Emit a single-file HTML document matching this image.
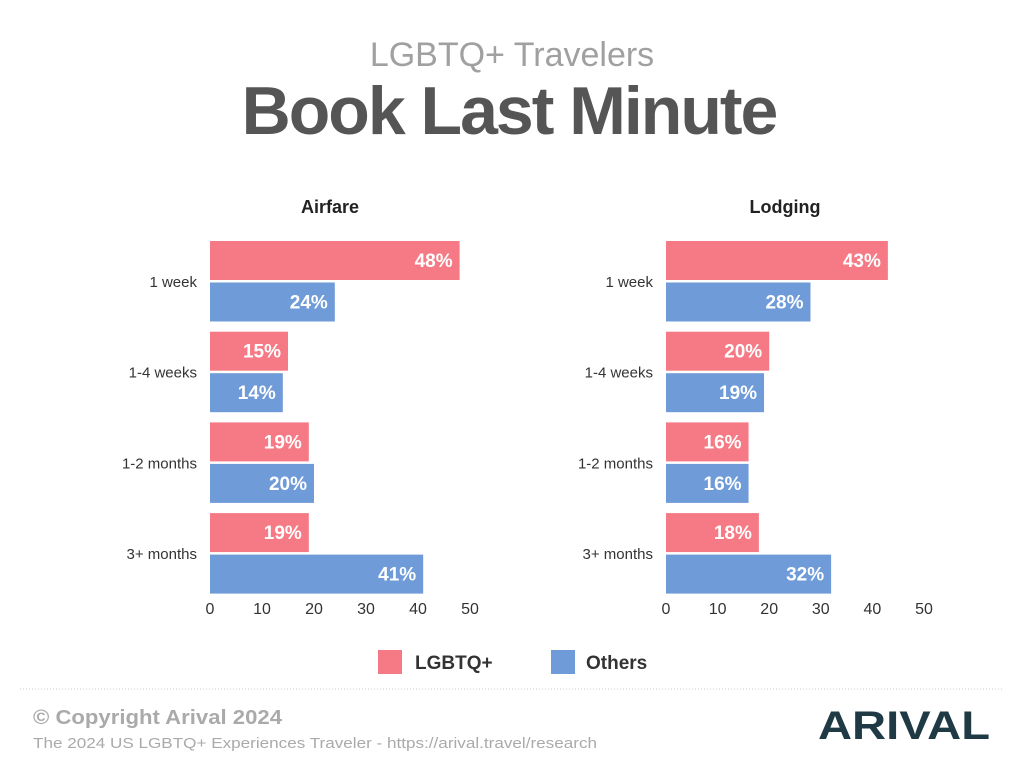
<!DOCTYPE html>
<html><head><meta charset="utf-8"><style>
body{margin:0;background:#fff;width:1024px;height:768px;overflow:hidden;font-family:"Liberation Sans",sans-serif}
svg text{font-family:"Liberation Sans",sans-serif}
</style></head><body>
<svg id="chart" width="1024" height="768" xmlns="http://www.w3.org/2000/svg">
<text x="512" y="66" text-anchor="middle" font-size="34" fill="#a0a0a0">LGBTQ+ Travelers</text>
<text x="509" y="134" text-anchor="middle" font-size="68" font-weight="bold" fill="#555" letter-spacing="-2">Book Last Minute</text>
<rect x="378" y="650" width="24" height="24" fill="#f67a85"/>
<text x="415" y="669" font-size="19" font-weight="bold" fill="#333">LGBTQ+</text>
<rect x="551" y="650" width="24" height="24" fill="#6f9bd8"/>
<text x="586" y="669" font-size="19" font-weight="bold" fill="#333">Others</text>
<line x1="20" y1="689" x2="1004" y2="689" stroke="#ccc" stroke-dasharray="1,2"/>
<text x="33" y="724" font-size="20" font-weight="bold" fill="#aaa" textLength="249" lengthAdjust="spacingAndGlyphs">© Copyright Arival 2024</text>
<text x="33" y="748" font-size="15" fill="#aaa" textLength="564" lengthAdjust="spacingAndGlyphs">The 2024 US LGBTQ+ Experiences Traveler - https://arival.travel/research</text>
<text x="990" y="739" text-anchor="end" font-size="40" font-weight="bold" fill="#1f3a45" textLength="172" lengthAdjust="spacingAndGlyphs">ARIVAL</text>
<g id="panels"></g>
</svg>
<script>
const categories=["1 week","1-4 weeks","1-2 months","3+ months"];
const airfareLgbtq=[48,15,19,19];
const airfareOthers=[24,14,20,41];
const lodgingLgbtq=[43,20,16,18];
const lodgingOthers=[28,19,16,32];
const ticks=[0,10,20,30,40,50];
const NS="http://www.w3.org/2000/svg";
const root=document.getElementById('panels');
function mk(tag,attrs,txt){const e=document.createElementNS(NS,tag);for(const k in attrs)e.setAttribute(k,attrs[k]);if(txt!==undefined)e.textContent=txt;root.appendChild(e);return e;}
function panel(name,title,x0,x50,lg,ot){
  const sx=v=>x0+(x50-x0)*v/50;
  const t=mk('text',{x:(x0+x50)/2-10,y:213,'text-anchor':'middle','font-size':18,'font-weight':'bold',fill:'#222'},title);
  
  
  categories.forEach((c,i)=>{
    const gy=241+i*90.7;
    const l=mk('text',{x:x0-13,y:gy+46,'text-anchor':'end','font-size':15,fill:'#333'},c);
    
    
    [[lg[i],'#f67a85',0,'lgbtq'],[ot[i],'#6f9bd8',41.5,'others']].forEach(([v,col,off,s])=>{
      const r=mk('rect',{x:x0,y:gy+off,width:sx(v)-x0,height:39,fill:col});
      
      
      const vt=mk('text',{x:sx(v)-7,y:gy+off+26,'text-anchor':'end','font-size':19,'font-weight':'bold',fill:'#fff'},v+'%');
      
      
    });
  });
  ticks.forEach(tv=>{
    const tk=mk('text',{x:sx(tv),y:614,'text-anchor':'middle','font-size':16,fill:'#333'},tv);
    
    
  });
}
panel('airfare','Airfare',210,470,airfareLgbtq,airfareOthers);
panel('lodging','Lodging',666,924,lodgingLgbtq,lodgingOthers);
</script>
</body></html>
